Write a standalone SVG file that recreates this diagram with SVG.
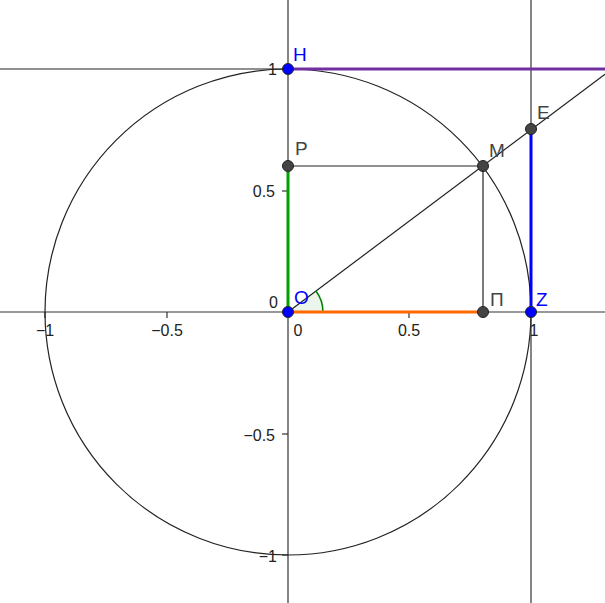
<svg xmlns="http://www.w3.org/2000/svg" width="605" height="603" viewBox="0 0 605 603">
<style>
.ax{stroke:#333;stroke-width:1.2;fill:none}
.ln{stroke:#222;stroke-width:1.2;fill:none}
.tk{font-family:"Liberation Sans",Arial,sans-serif;font-size:16px;fill:#222}
.lb{font-family:"Liberation Sans",Arial,sans-serif;font-size:19px}
.pt{stroke:#222;stroke-width:1}
</style>
<rect width="605" height="603" fill="#fff"/>
<g id="axes">
<line class="ax" x1="0" y1="312" x2="605" y2="312"/>
<line class="ax" x1="288" y1="0" x2="288" y2="603"/>
<g class="ax">
<line x1="45" y1="312" x2="45" y2="318"/>
<line x1="167" y1="312" x2="167" y2="318"/>
<line x1="409" y1="312" x2="409" y2="318"/>
<line x1="531" y1="312" x2="531" y2="318"/>
<line x1="282" y1="69" x2="288" y2="69"/>
<line x1="282" y1="191" x2="288" y2="191"/>
<line x1="282" y1="434" x2="288" y2="434"/>
<line x1="282" y1="555" x2="288" y2="555"/>
</g>
<text class="tk" x="45" y="336" text-anchor="middle">−1</text>
<text class="tk" x="167" y="336" text-anchor="middle">−0.5</text>
<text class="tk" x="298" y="336" text-anchor="middle">0</text>
<text class="tk" x="409" y="336" text-anchor="middle">0.5</text>
<text class="tk" x="534" y="336" text-anchor="middle">1</text>
<text class="tk" x="277" y="75" text-anchor="end">1</text>
<text class="tk" x="275" y="197" text-anchor="end">0.5</text>
<text class="tk" x="278" y="308" text-anchor="end">0</text>
<text class="tk" x="275" y="441" text-anchor="end">−0.5</text>
<text class="tk" x="277" y="562" text-anchor="end">−1</text>
</g>
<g id="connectors">
<circle class="ln" cx="288" cy="312" r="243"/>
<line class="ax" x1="531" y1="0" x2="531" y2="603"/>
<line class="ln" x1="0" y1="69" x2="605" y2="69"/>
<line class="ln" x1="288" y1="312" x2="605" y2="74.3"/>
<line class="ln" x1="288" y1="166" x2="483" y2="166"/>
<line class="ln" x1="483" y1="166" x2="483" y2="312"/>
<path d="M288,312 L323,312 A35,35 0 0 0 316,291 Z" fill="#007f00" fill-opacity="0.08" stroke="none"/>
<path d="M323,312 A35,35 0 0 0 316,291" fill="none" stroke="#007f00" stroke-width="1.5"/>
<line x1="288" y1="69" x2="605" y2="69" stroke="#7030a0" stroke-width="3"/>
<line x1="531" y1="129" x2="531" y2="312" stroke="#0000ff" stroke-width="3"/>
<line x1="288" y1="166" x2="288" y2="312" stroke="#00a000" stroke-width="3"/>
<line x1="288" y1="312" x2="483" y2="312" stroke="#ff6a00" stroke-width="3"/>
</g>
<g id="H"><circle class="pt" cx="288" cy="69" r="5.5" fill="#0000ff"/><text class="lb" x="293" y="61" fill="#0000ff">H</text></g>
<g id="E"><circle class="pt" cx="531" cy="129" r="5.5" fill="#444"/><text class="lb" x="537" y="119" fill="#444">E</text></g>
<g id="M"><circle class="pt" cx="483" cy="166" r="5.5" fill="#444"/><text class="lb" x="489" y="157" fill="#444">M</text></g>
<g id="P"><circle class="pt" cx="288" cy="166" r="5.5" fill="#444"/><text class="lb" x="295" y="155" fill="#444">P</text></g>
<g id="Pi"><circle class="pt" cx="483" cy="312" r="5.5" fill="#444"/><text class="lb" x="490" y="306" fill="#444">Π</text></g>
<g id="Z"><circle class="pt" cx="531" cy="312" r="5.5" fill="#0000ff"/><text class="lb" x="536" y="306" fill="#0000ff">Z</text></g>
<g id="O"><circle class="pt" cx="288" cy="312" r="5.5" fill="#0000ff"/><text class="lb" x="294" y="304" fill="#0000ff">O</text></g>
</svg>
